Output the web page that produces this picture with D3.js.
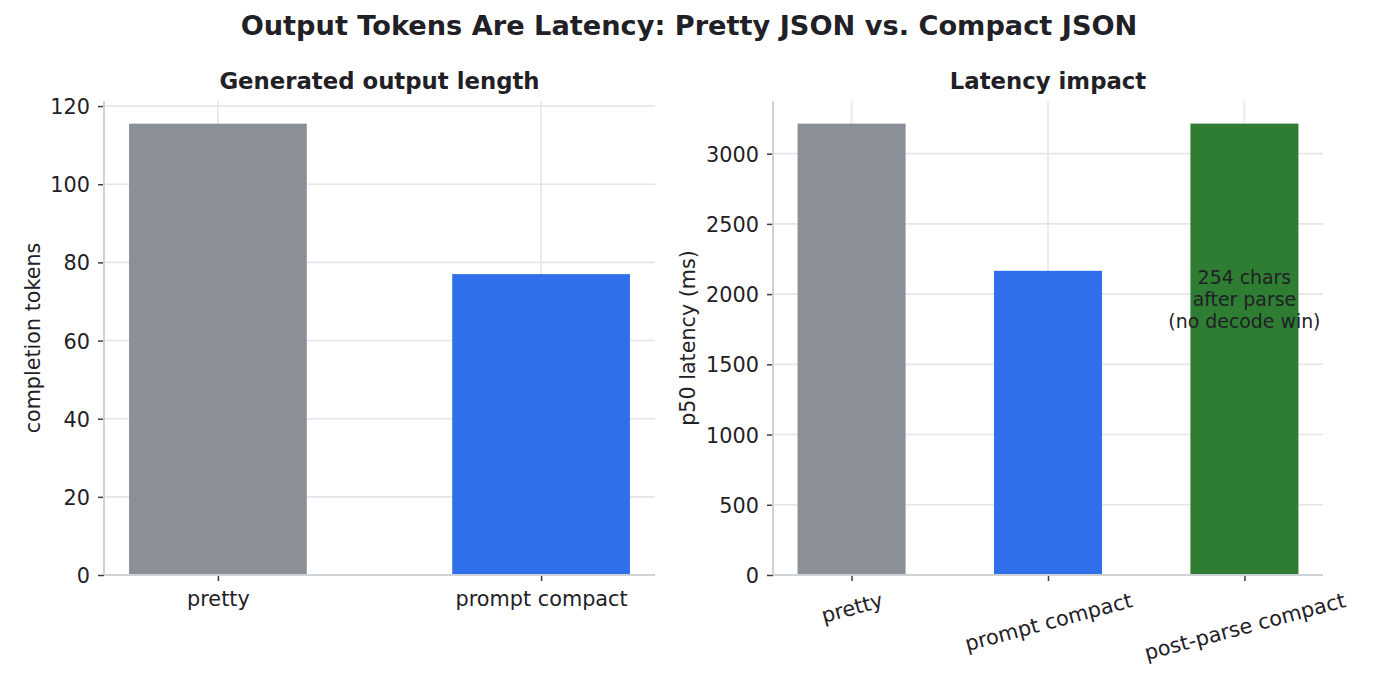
<!DOCTYPE html>
<html>
<head>
<meta charset="utf-8">
<script src="https://cdn.jsdelivr.net/npm/d3@7"></script>
<style>
  html, body { margin: 0; padding: 0; background: #ffffff; }
  svg { display: block; font-family: "DejaVu Sans", sans-serif; }
</style>
</head>
<body>
<svg id="chart" width="1380" height="675"></svg>
<script>
// ---------------- data ----------------
const figureTitle = "Output Tokens Are Latency: Pretty JSON vs. Compact JSON";

const leftTitle = "Generated output length";
const leftYLabel = "completion tokens";
const leftCategories = ["pretty", "prompt compact"];
const leftTokens = [115.5, 77.0];
const leftColors = ["#8b8f98", "#2f70ea"];
const leftTicks = [0, 20, 40, 60, 80, 100, 120];

const rightTitle = "Latency impact";
const rightYLabel = "p50 latency (ms)";
const rightCategories = ["pretty", "prompt compact", "post-parse compact"];
const rightLatency = [3214, 2166, 3214];
const rightColors = ["#8b8f98", "#2f70ea", "#2e7d32"];
const rightTicks = [0, 500, 1000, 1500, 2000, 2500, 3000];

const noteLines = ["254 chars", "after parse", "(no decode win)"];
const noteCategory = 2;
const noteValue = 1960;

// ---------------- style ----------------
const textColor = "#1f2126";
const gridColor = "#e6e6ea";
const spineColor = "#cfd2d7";
const tickFont = 20.8;

const svg = d3.select("#chart");

svg.append("text")
  .attr("x", 689).attr("y", 35)
  .attr("text-anchor", "middle")
  .attr("font-size", 27.2).attr("font-weight", "bold")
  .attr("fill", textColor)
  .text(figureTitle);

function panel(opts) {
  const { left, right, top, bottom } = opts.box;
  const x = d3.scaleLinear().domain(opts.xDomain).range([left, right]);
  const y = d3.scaleLinear().domain(opts.yDomain).range([bottom, top]);
  const g = svg.append("g");
  const idx = opts.categories.map((d, i) => i);

  // grid
  g.append("g").selectAll("line.hg").data(opts.ticks).join("line")
    .attr("x1", left).attr("x2", right)
    .attr("y1", d => y(d)).attr("y2", d => y(d))
    .attr("stroke", gridColor).attr("stroke-width", 1.6);
  g.append("g").selectAll("line.vg").data(idx).join("line")
    .attr("x1", d => x(d)).attr("x2", d => x(d))
    .attr("y1", top).attr("y2", bottom)
    .attr("stroke", gridColor).attr("stroke-width", 1.6);

  // bars
  g.append("g").selectAll("rect").data(opts.values).join("rect")
    .attr("x", (d, i) => x(i - opts.barWidth / 2))
    .attr("width", (d, i) => x(i + opts.barWidth / 2) - x(i - opts.barWidth / 2))
    .attr("y", d => y(d))
    .attr("height", d => y(0) - y(d))
    .attr("fill", (d, i) => opts.colors[i]);

  // y axis
  const yAxis = d3.axisLeft(y).tickValues(opts.ticks).tickSize(6).tickPadding(8)
    .tickFormat(d3.format("d"));
  const ya = g.append("g").attr("transform", `translate(${left},0)`).call(yAxis);
  ya.select(".domain").remove();
  ya.selectAll(".tick line").attr("stroke", "#3a3d42").attr("stroke-width", 1.5);
  ya.selectAll(".tick text").attr("font-size", tickFont).attr("fill", textColor)
    .attr("font-family", "DejaVu Sans").attr("dy", "0.36em");

  // x axis
  const xAxis = d3.axisBottom(x).tickValues(idx).tickSize(6).tickPadding(8)
    .tickFormat(i => opts.categories[i]);
  const xa = g.append("g").attr("transform", `translate(0,${bottom})`).call(xAxis);
  xa.select(".domain").remove();
  xa.selectAll(".tick line").attr("stroke", "#3a3d42").attr("stroke-width", 1.5);
  const xt = xa.selectAll(".tick text").attr("font-size", tickFont).attr("fill", textColor)
    .attr("font-family", "DejaVu Sans");
  if (opts.rotate) {
    xt.each(function () {
      const t = d3.select(this);
      const w = this.getComputedTextLength();
      const h = tickFont * 1.16;
      const a = opts.rotate * Math.PI / 180;
      const bh = w * Math.sin(a) + h * Math.cos(a);
      t.attr("y", null).attr("dy", "0.35em")
        .attr("transform", `translate(0,${6 + 7 + bh / 2}) rotate(${-opts.rotate})`);
    });
  } else {
    xt.attr("dy", "1.2em").attr("y", 6);
  }

  // spines
  g.append("line").attr("x1", left).attr("x2", left).attr("y1", top).attr("y2", bottom)
    .attr("stroke", spineColor).attr("stroke-width", 2);
  g.append("line").attr("x1", left).attr("x2", right).attr("y1", bottom).attr("y2", bottom)
    .attr("stroke", spineColor).attr("stroke-width", 2);

  // titles
  g.append("text")
    .attr("x", (left + right) / 2).attr("y", 89)
    .attr("text-anchor", "middle").attr("font-size", 22.8).attr("font-weight", "bold")
    .attr("fill", textColor).text(opts.title);
  g.append("text")
    .attr("transform", `translate(${opts.yLabelX},${(top + bottom) / 2}) rotate(-90)`)
    .attr("text-anchor", "middle").attr("dy", "0.35em")
    .attr("font-size", 20.7).attr("fill", textColor).text(opts.yLabel);

  return { g, x, y };
}

const leftPanel = panel({
  box: { left: 104, right: 655, top: 101, bottom: 575 },
  xDomain: [-0.3525, 1.3525], yDomain: [0, 121.3],
  categories: leftCategories, values: leftTokens, colors: leftColors,
  ticks: leftTicks, barWidth: 0.55, title: leftTitle, yLabel: leftYLabel,
  yLabelX: 33, rotate: 0
});

const rightPanel = panel({
  box: { left: 773, right: 1323, top: 101, bottom: 575 },
  xDomain: [-0.4, 2.4], yDomain: [0, 3375],
  categories: rightCategories, values: rightLatency, colors: rightColors,
  ticks: rightTicks, barWidth: 0.55, title: rightTitle, yLabel: rightYLabel,
  yLabelX: 688, rotate: 15
});

// annotation
const lineH = 22;
const note = rightPanel.g.append("text")
  .attr("text-anchor", "middle").attr("font-size", 18.9).attr("fill", textColor);
noteLines.forEach((line, i) => {
  note.append("tspan")
    .attr("x", rightPanel.x(noteCategory))
    .attr("y", rightPanel.y(noteValue) + (i - (noteLines.length - 1) / 2) * lineH)
    .attr("dy", "0.35em")
    .text(line);
});
</script>
</body>
</html>
